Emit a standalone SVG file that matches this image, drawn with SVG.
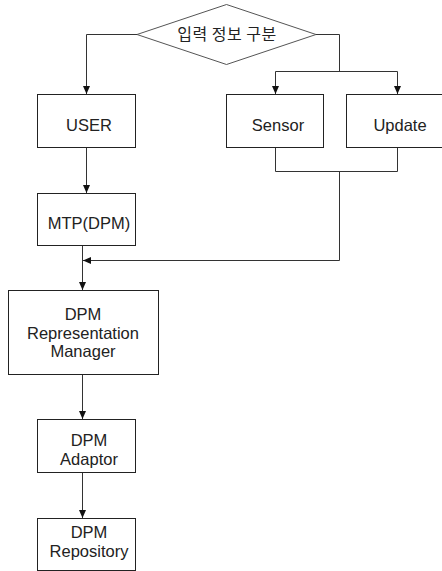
<svg xmlns="http://www.w3.org/2000/svg" width="442" height="571" viewBox="0 0 442 571">
<style>
.box{fill:#fff;stroke:#222;stroke-width:1}
.dia{fill:#fff;stroke:#555;stroke-width:1}
.t{font-family:"Liberation Sans","Noto Sans CJK KR",sans-serif;font-size:16.5px;fill:#222;text-anchor:middle}
.k{font-family:"Noto Sans CJK KR",sans-serif;font-size:16px;letter-spacing:0.5px;fill:#222;text-anchor:middle}
.c{fill:none;stroke:#333;stroke-width:1}
</style>
<defs>
<marker id="ah" viewBox="0 0 8 8" refX="8" refY="4" markerWidth="8" markerHeight="8" markerUnits="userSpaceOnUse" orient="auto">
<path d="M0,0.5 L8,4 L0,7.5 Z" fill="#111"/>
</marker>
</defs>
<g id="connectors">
<path class="c" d="M137,34.5 H86.5 V94" marker-end="url(#ah)"/>
<path class="c" d="M316,34.5 H339.5 V71.5"/>
<path class="c" d="M275.5,71.5 H397.5"/>
<path class="c" d="M275.5,71.5 V94" marker-end="url(#ah)"/>
<path class="c" d="M397.5,71.5 V94" marker-end="url(#ah)"/>
<path class="c" d="M275.5,147 V171.5 H397.5 V147"/>
<path class="c" d="M339.5,171.5 V260.5 H83" marker-end="url(#ah)"/>
<path class="c" d="M86.5,147 V193" marker-end="url(#ah)"/>
<path class="c" d="M82.5,245 V290" marker-end="url(#ah)"/>
<path class="c" d="M82.5,374 V419" marker-end="url(#ah)"/>
<path class="c" d="M82.5,472 V518" marker-end="url(#ah)"/>
</g>
<g id="decision">
<polygon class="dia" points="137,34.5 226.5,4.5 316,34.5 226.5,64.5"/>
<text class="k" x="227" y="40">입력 정보 구분</text>
</g>
<g id="user">
<rect class="box" x="37.5" y="94.5" width="98" height="53"/>
<text class="t" x="89" y="131">USER</text>
</g>
<g id="sensor">
<rect class="box" x="226.5" y="94.5" width="97" height="53"/>
<text class="t" x="278" y="131">Sensor</text>
</g>
<g id="update">
<rect class="box" x="346.5" y="94.5" width="97" height="53"/>
<text class="t" x="400" y="131">Update</text>
</g>
<g id="mtp">
<rect class="box" x="37.5" y="193.5" width="98" height="52"/>
<text class="t" x="89" y="229">MTP(DPM)</text>
</g>
<g id="dpm-rm">
<rect class="box" x="8.5" y="290.5" width="150" height="84"/>
<text class="t" x="83" y="320">DPM</text>
<text class="t" x="83" y="338.5">Representation</text>
<text class="t" x="83" y="357">Manager</text>
</g>
<g id="dpm-adaptor">
<rect class="box" x="37.5" y="419.5" width="98" height="53"/>
<text class="t" x="89" y="446">DPM</text>
<text class="t" x="89" y="464.5">Adaptor</text>
</g>
<g id="dpm-repository">
<rect class="box" x="37.5" y="518.5" width="98" height="52"/>
<text class="t" x="89" y="538">DPM</text>
<text class="t" x="89" y="557">Repository</text>
</g>
</svg>
